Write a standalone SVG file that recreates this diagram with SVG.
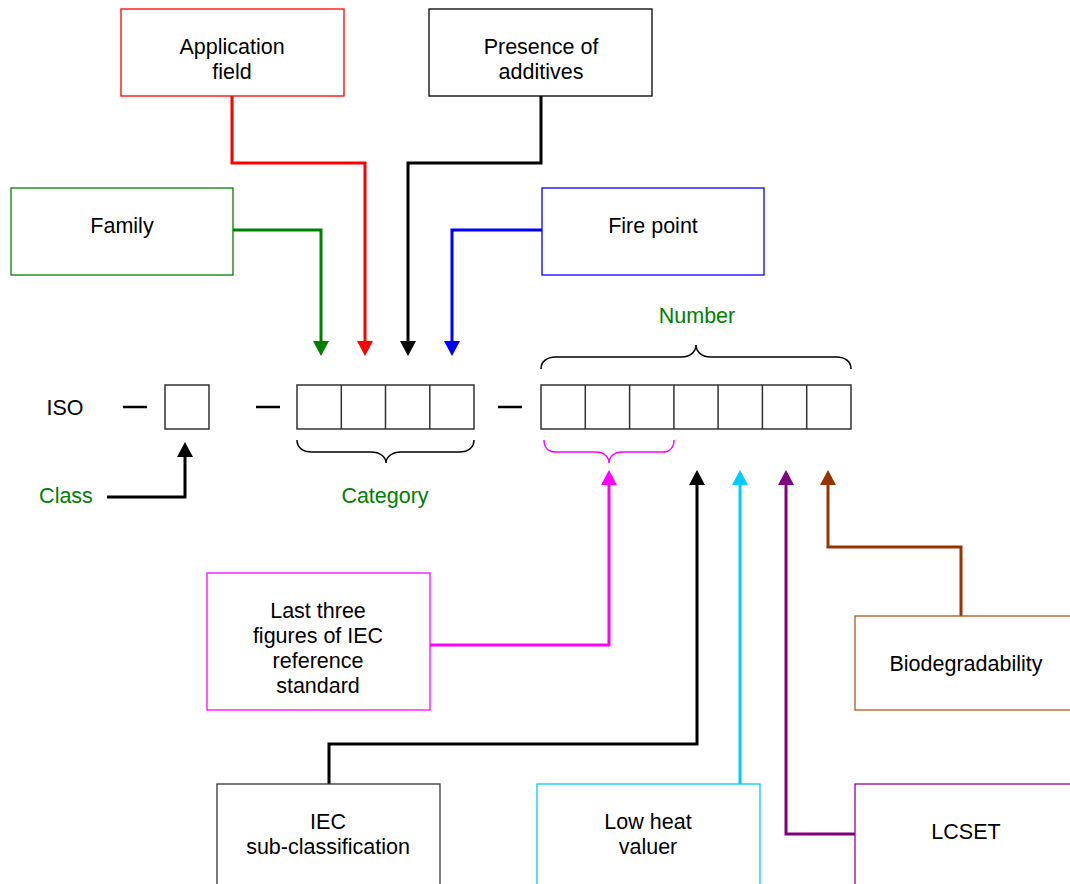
<svg xmlns="http://www.w3.org/2000/svg" width="1070" height="884" viewBox="0 0 1070 884">
<style>
text{font-family:"Liberation Sans",Arial,sans-serif;font-size:21.5px;fill:#000;text-anchor:middle;dominant-baseline:central}
.g{fill:#008000}
.box{fill:#fff;stroke-width:1.3}
.cell{fill:#fff;stroke:#333;stroke-width:1.5}
.con{fill:none;stroke-width:3}
.brace{fill:none;stroke-width:1.5}
.dash{stroke:#000;stroke-width:2.5}
</style>
<defs>
<marker id="aG" markerUnits="userSpaceOnUse" markerWidth="15" markerHeight="16" viewBox="0 0 15 16" refX="0" refY="8" orient="auto"><path d="M0,0L15,8L0,16z" fill="#008000"/></marker>
<marker id="aR" markerUnits="userSpaceOnUse" markerWidth="15" markerHeight="16" viewBox="0 0 15 16" refX="0" refY="8" orient="auto"><path d="M0,0L15,8L0,16z" fill="#ff0000"/></marker>
<marker id="aK" markerUnits="userSpaceOnUse" markerWidth="15" markerHeight="16" viewBox="0 0 15 16" refX="0" refY="8" orient="auto"><path d="M0,0L15,8L0,16z" fill="#000"/></marker>
<marker id="aB" markerUnits="userSpaceOnUse" markerWidth="15" markerHeight="16" viewBox="0 0 15 16" refX="0" refY="8" orient="auto"><path d="M0,0L15,8L0,16z" fill="#0000ff"/></marker>
<marker id="aM" markerUnits="userSpaceOnUse" markerWidth="15" markerHeight="16" viewBox="0 0 15 16" refX="0" refY="8" orient="auto"><path d="M0,0L15,8L0,16z" fill="#ff00ff"/></marker>
<marker id="aC" markerUnits="userSpaceOnUse" markerWidth="15" markerHeight="16" viewBox="0 0 15 16" refX="0" refY="8" orient="auto"><path d="M0,0L15,8L0,16z" fill="#00ccff"/></marker>
<marker id="aP" markerUnits="userSpaceOnUse" markerWidth="15" markerHeight="16" viewBox="0 0 15 16" refX="0" refY="8" orient="auto"><path d="M0,0L15,8L0,16z" fill="#800080"/></marker>
<marker id="aO" markerUnits="userSpaceOnUse" markerWidth="15" markerHeight="16" viewBox="0 0 15 16" refX="0" refY="8" orient="auto"><path d="M0,0L15,8L0,16z" fill="#993300"/></marker>
</defs>
<rect width="1070" height="884" fill="#fff"/>

<g id="code">
<text x="65" y="408">ISO</text>
<line class="dash" x1="123" y1="407" x2="147" y2="407"/>
<rect class="cell" x="165" y="385" width="44" height="44"/>
<line class="dash" x1="256" y1="407" x2="280" y2="407"/>
<rect class="cell" x="297" y="385" width="177" height="44"/>
<path class="cell" d="M341.3,385V429M385.5,385V429M429.8,385V429"/>
<line class="dash" x1="498" y1="407" x2="522" y2="407"/>
<rect class="cell" x="541" y="385" width="310" height="44"/>
<path class="cell" d="M585.3,385V429M629.6,385V429M673.9,385V429M718.1,385V429M762.4,385V429M806.7,385V429"/>
</g>

<g id="braces">
<path class="brace" stroke="#000" d="M541,369C541,362 546,357 556,357H681C690,357 696,352 696,345C696,352 702,357 711,357H836C846,357 851,362 851,369"/>
<path class="brace" stroke="#000" d="M297,440C297,447 302,452 312,452H371C380,452 386,457 386,463C386,457 392,452 401,452H459C469,452 474,447 474,440"/>
<path class="brace" stroke="#ff00ff" d="M544,440C544,447 548,452 556,452H596C604,452 609,457 609,463C609,457 614,452 622,452H662C670,452 674,447 674,440"/>
</g>

<g id="labels">
<text class="g" x="697" y="316">Number</text>
<text class="g" x="385" y="496">Category</text>
<text class="g" x="66" y="496">Class</text>
</g>

<g id="connectors">
<path class="con" stroke="#008000" marker-end="url(#aG)" d="M233,230H321V341"/>
<path class="con" stroke="#ff0000" marker-end="url(#aR)" d="M232,96V163H365V341"/>
<path class="con" stroke="#000" marker-end="url(#aK)" d="M541,96V163H408V341"/>
<path class="con" stroke="#0000ff" marker-end="url(#aB)" d="M542,230H452V341"/>
<path class="con" stroke="#000" marker-end="url(#aK)" d="M107,497H185V457"/>
<path class="con" stroke="#ff00ff" marker-end="url(#aM)" d="M430,645H609V485"/>
<path class="con" stroke="#000" marker-end="url(#aK)" d="M329,784V744H697V485"/>
<path class="con" stroke="#00ccff" marker-end="url(#aC)" d="M740,784V485"/>
<path class="con" stroke="#800080" marker-end="url(#aP)" d="M855,834H786V485"/>
<path class="con" stroke="#993300" marker-end="url(#aO)" d="M961,616V547H828V485"/>
</g>

<g id="application">
<rect class="box" stroke="#ff0000" x="121" y="9" width="223" height="87"/>
<text x="232" y="47">Application</text><text x="232" y="72">field</text>
</g>
<g id="presence">
<rect class="box" stroke="#000" x="429" y="9" width="223" height="87"/>
<text x="541" y="47">Presence of</text><text x="541" y="72">additives</text>
</g>
<g id="family">
<rect class="box" stroke="#008000" x="11" y="188" width="222" height="87"/>
<text x="122" y="226">Family</text>
</g>
<g id="firepoint">
<rect class="box" stroke="#0000ff" x="542" y="188" width="222" height="87"/>
<text x="653" y="226">Fire point</text>
</g>
<g id="lastthree">
<rect class="box" stroke="#ff00ff" x="207" y="573" width="223" height="137"/>
<text x="318" y="611">Last three</text><text x="318" y="636">figures of IEC</text><text x="318" y="661">reference</text><text x="318" y="686">standard</text>
</g>
<g id="biodeg">
<rect class="box" stroke="#b3541e" x="855" y="616" width="230" height="94"/>
<text x="966" y="664">Biodegradability</text>
</g>
<g id="iecsub">
<rect class="box" stroke="#333" x="217" y="784" width="223" height="110"/>
<text x="328" y="822">IEC</text><text x="328" y="847">sub-classification</text>
</g>
<g id="lowheat">
<rect class="box" stroke="#00ccff" x="537" y="784" width="223" height="110"/>
<text x="648" y="822">Low heat</text><text x="648" y="847">valuer</text>
</g>
<g id="lcset">
<rect class="box" stroke="#990099" x="855" y="784" width="230" height="110"/>
<text x="966" y="832">LCSET</text>
</g>
</svg>
